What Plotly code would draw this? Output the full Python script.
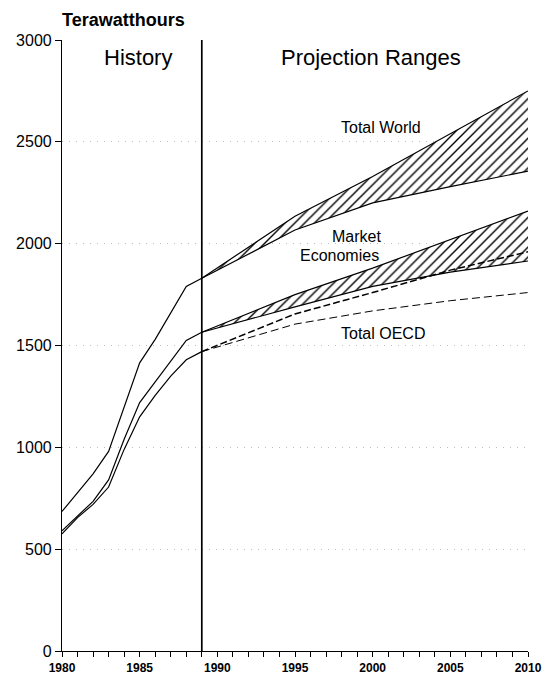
import plotly.graph_objects as go

# Electricity consumption, terawatt-hours
hist_years = [1980, 1981, 1982, 1983, 1984, 1985, 1986, 1987, 1988, 1989]
world_hist = [685, 780, 870, 980, 1200, 1415, 1530, 1660, 1790, 1830]
market_hist = [590, 665, 735, 840, 1040, 1220, 1320, 1420, 1525, 1565]
oecd_hist = [575, 655, 720, 805, 990, 1150, 1255, 1350, 1430, 1470]

proj_years = [1989, 1995, 2000, 2005, 2010]
world_high = [1830, 2135, 2330, 2540, 2750]
world_low = [1830, 2067, 2200, 2280, 2356]
market_high = [1565, 1750, 1880, 2020, 2160]
market_low = [1565, 1690, 1790, 1860, 1915]
oecd_high = [1470, 1655, 1760, 1870, 1960]
oecd_low = [1470, 1605, 1670, 1720, 1760]

divide_year = 1989
tick_years = list(range(1980, 2011))
tick_labels = [str(y) if y % 5 == 0 else "" for y in tick_years]
y_ticks = [0, 500, 1000, 1500, 2000, 2500, 3000]

FONT = "Liberation Sans, Arial, sans-serif"
INK = "black"
hatch = dict(shape="/", size=7, solidity=0.2, fgcolor=INK, fgopacity=1,
             bgcolor="white")

fig = go.Figure()

def line(x, y, dash="solid", width=1.2, fill=None):
    kw = dict(x=x, y=y, mode="lines", showlegend=False, hoverinfo="skip",
              line=dict(color=INK, width=width, dash=dash))
    if fill:
        kw.update(fill="tonexty", fillcolor="white", fillpattern=hatch)
    fig.add_trace(go.Scatter(**kw))

# history
line(hist_years, world_hist)
line(hist_years, market_hist)
line(hist_years, oecd_hist)

# projection ranges (hatched bands)
line(proj_years, world_low)
line(proj_years, world_high, fill=True)
line(proj_years, market_low)
line(proj_years, market_high, fill=True)

# OECD projections
line(proj_years, oecd_low, dash="8px,4px", width=1.0)
line(proj_years, oecd_high, dash="7px,3px", width=1.5)

# history / projection divider
line([divide_year, divide_year], [y_ticks[0], y_ticks[-1]], width=1.7)

def label(text, x, y, size, xanchor="center"):
    fig.add_annotation(text=text, x=x, y=y, xref="paper", yref="paper",
                       showarrow=False, xanchor=xanchor, yanchor="middle",
                       font=dict(family=FONT, size=size, color=INK))

label("<b>Terawatthours</b>", -0.004, 1.033, 18, xanchor="left")
label("History", 0.163, 0.972, 22)
label("Projection Ranges", 0.664, 0.972, 22)
label("Total World", 0.685, 0.856, 16)
label("Market", 0.689, 0.678, 16, xanchor="right")
label("Economies", 0.685, 0.647, 16, xanchor="right")
label("Total OECD", 0.689, 0.519, 16)

fig.update_layout(
    width=545, height=678,
    margin=dict(l=62, r=17, t=40, b=27),
    paper_bgcolor="white", plot_bgcolor="white",
    font=dict(family=FONT, color=INK),
)
fig.update_xaxes(
    range=[tick_years[0], tick_years[-1]], tickmode="array",
    tickvals=tick_years, ticktext=[f"<b>{t}</b>" if t else "" for t in tick_labels],
    ticks="outside", ticklen=5, tickwidth=1, tickcolor=INK,
    showline=True, linecolor=INK, linewidth=1.2,
    showgrid=False, zeroline=False, automargin=False,
    tickfont=dict(family=FONT, size=12, color=INK),
)
fig.update_yaxes(
    range=[y_ticks[0], y_ticks[-1]], tickmode="array", tickvals=y_ticks,
    ticks="outside", ticklen=6, tickwidth=1, tickcolor=INK,
    showline=True, linecolor=INK, linewidth=1.2,
    showgrid=True, gridcolor="#bdbdbd", griddash="1px,6px", gridwidth=1,
    zeroline=False, automargin=False,
    tickfont=dict(family=FONT, size=16, color=INK),
)

fig.write_html("out.html")
